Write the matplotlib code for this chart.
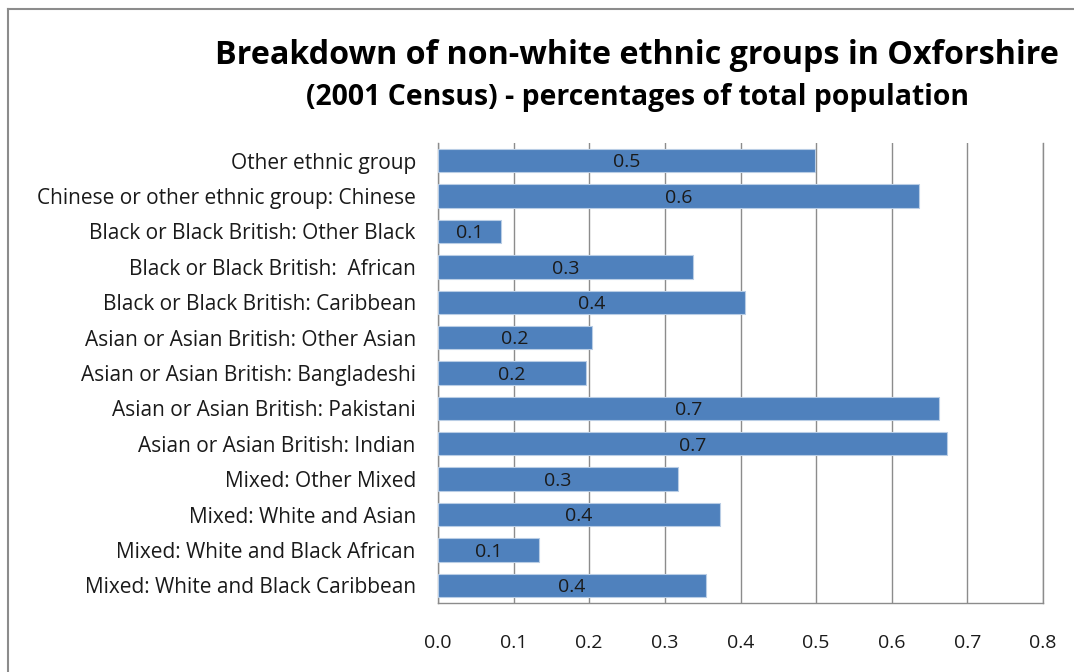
import matplotlib
matplotlib.use("Agg")
import matplotlib.pyplot as plt
from matplotlib.lines import Line2D

categories = [
    "Mixed: White and Black Caribbean",
    "Mixed: White and Black African",
    "Mixed: White and Asian",
    "Mixed: Other Mixed",
    "Asian or Asian British: Indian",
    "Asian or Asian British: Pakistani",
    "Asian or Asian British: Bangladeshi",
    "Asian or Asian British: Other Asian",
    "Black or Black British: Caribbean",
    "Black or Black British:  African",
    "Black or Black British: Other Black",
    "Chinese or other ethnic group: Chinese",
    "Other ethnic group",
]
values = [0.354, 0.134, 0.373, 0.317, 0.673, 0.662, 0.196, 0.204, 0.406, 0.337, 0.083, 0.636, 0.499]
xticks = [0.0, 0.1, 0.2, 0.3, 0.4, 0.5, 0.6, 0.7, 0.8]

FONT = "Open Sans"
W, H = 1074, 672
fig = plt.figure(figsize=(W / 100, H / 100), dpi=100)
fig.patch.set_facecolor("white")

left, right, top, bottom = 438, 1043, 143, 603
ax = fig.add_axes([left / W, 1 - bottom / H, (right - left) / W, (bottom - top) / H])

y = list(range(len(categories)))
ax.barh(y, values, height=0.66, color="#4F81BD", edgecolor="#B9CDE5", linewidth=0.8, zorder=3)
for yi, v in zip(y, values):
    ax.text(v / 2, yi - 0.05, f"{v:.1f}", ha="center", va="center", fontsize=14,
            family=FONT, color="#1a1a1a", zorder=4)

ax.set_xlim(0, 0.8)
ax.set_ylim(-0.5, len(categories) - 0.5)
ax.set_xticks(xticks)
ax.set_xticklabels([f"{t:.1f}" for t in xticks], family=FONT, fontsize=14, color="#1a1a1a")
ax.set_yticks(y)
ax.set_yticklabels(categories, family=FONT, fontsize=15, color="#1a1a1a")
ax.tick_params(axis="x", length=0, pad=22)
ax.tick_params(axis="y", length=0, pad=16)
ax.grid(axis="x", color="#8C8C8C", linewidth=1.0, zorder=0)
ax.spines["top"].set_visible(False)
for s in ["left", "bottom", "right"]:
    ax.spines[s].set_color("#8C8C8C")
    ax.spines[s].set_linewidth(1.0)

fig.text(637 / W, 1 - 55 / H, "Breakdown of non-white ethnic groups in Oxforshire",
         ha="center", va="center", fontsize=23.2, fontweight="bold", family=FONT, color="black")
fig.text(637 / W, 1 - 97 / H, "(2001 Census) - percentages of total population",
         ha="center", va="center", fontsize=20.4, fontweight="bold", family=FONT, color="black")

# outer chart border (top and left visible)
fig.add_artist(Line2D([8 / W, 1], [1 - 9 / H, 1 - 9 / H], transform=fig.transFigure,
                      color="#8C8C8C", linewidth=1.5))
fig.add_artist(Line2D([8 / W, 8 / W], [0, 1 - 9 / H], transform=fig.transFigure,
                      color="#8C8C8C", linewidth=1.5))

fig.savefig("out.png", dpi=100, facecolor="white")
